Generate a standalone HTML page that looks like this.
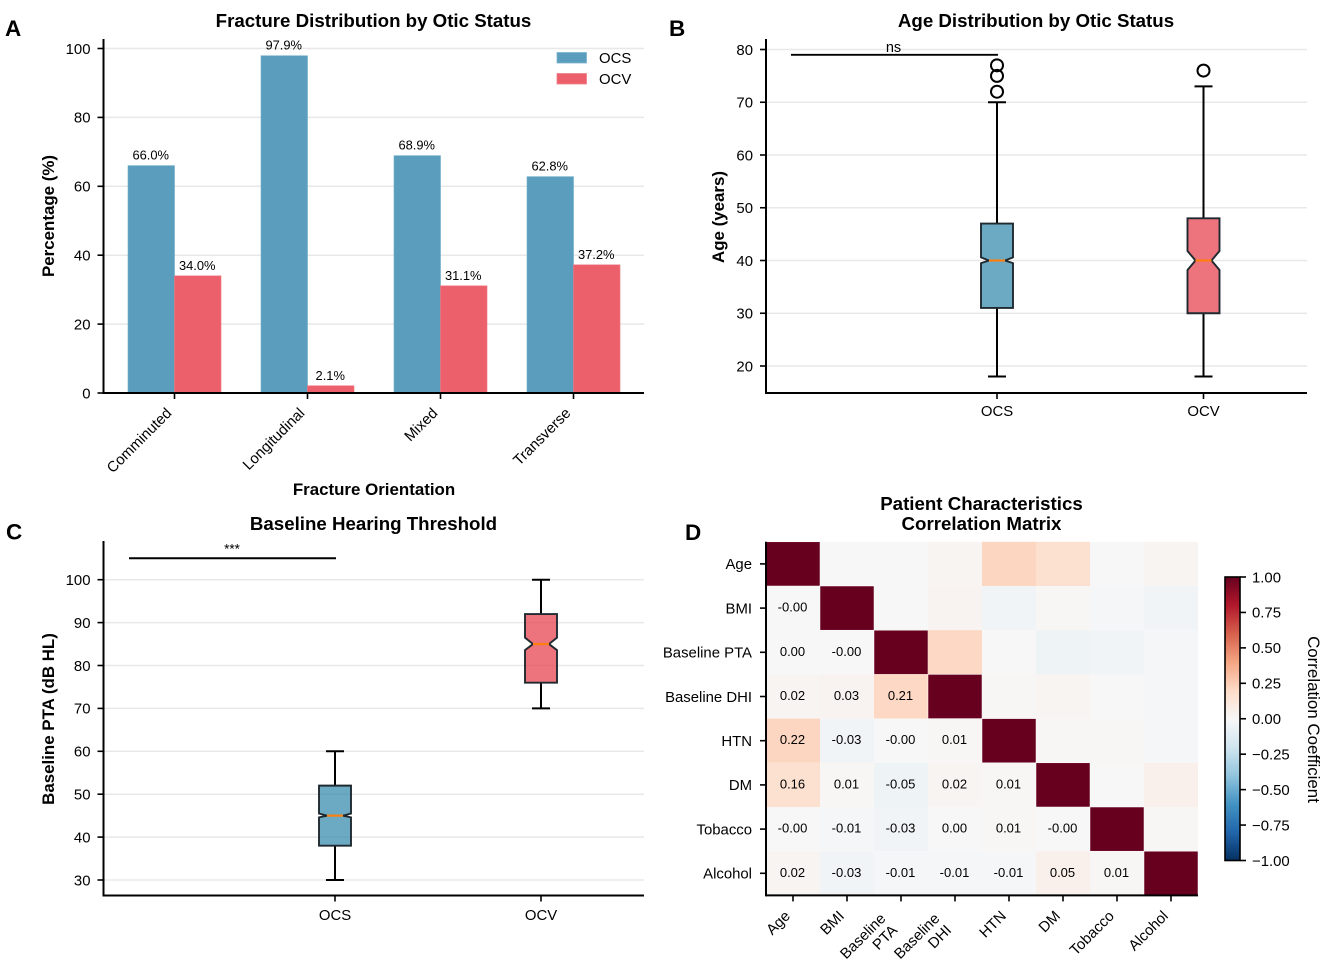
<!DOCTYPE html>
<html>
<head>
<meta charset="utf-8">
<title>Otic Status Figure</title>
<style>
html,body{margin:0;padding:0;background:#fff;}
svg{display:block;}
text{font-family:"Liberation Sans",sans-serif;fill:#000;}
.title{font-size:18.7px;font-weight:bold;text-anchor:middle;}
.axlabel{font-size:16.9px;font-weight:bold;text-anchor:middle;}
.tick{font-size:14.9px;}
.panel{font-size:22.5px;font-weight:bold;}
.val{font-size:12.9px;text-anchor:middle;}
</style>
</head>
<body>
<svg id="fig" xmlns="http://www.w3.org/2000/svg" width="1325" height="962" viewBox="0 0 1325 962">
  <defs>
    <linearGradient id="cbgrad" x1="0" y1="1" x2="0" y2="0">
      <stop offset="0" stop-color="#053061"/><stop offset="0.1" stop-color="#2166ac"/>
      <stop offset="0.2" stop-color="#4393c3"/><stop offset="0.3" stop-color="#92c5de"/>
      <stop offset="0.4" stop-color="#d1e5f0"/><stop offset="0.5" stop-color="#f7f7f7"/>
      <stop offset="0.6" stop-color="#fddbc7"/><stop offset="0.7" stop-color="#f4a582"/>
      <stop offset="0.8" stop-color="#d6604d"/><stop offset="0.9" stop-color="#b2182b"/>
      <stop offset="1" stop-color="#67001f"/>
    </linearGradient>
  </defs>
  <g id="panelA"></g>
  <g id="panelB"></g>
  <g id="panelC"></g>
  <g id="panelD"></g>

  <text class="panel" x="5" y="36">A</text>
  <text class="panel" x="669" y="36">B</text>
  <text class="panel" x="6" y="539.5">C</text>
  <text class="panel" x="685" y="540">D</text>

  <text class="title" x="373.5" y="27">Fracture Distribution by Otic Status</text>
  <text class="title" x="1036" y="27">Age Distribution by Otic Status</text>
  <text class="title" x="373.5" y="530">Baseline Hearing Threshold</text>
  <text class="title" x="981.5" y="510">Patient Characteristics</text>
  <text class="title" x="981.5" y="530">Correlation Matrix</text>

  <text class="axlabel" transform="translate(54,216) rotate(-90)">Percentage (%)</text>
  <text class="axlabel" x="374" y="495">Fracture Orientation</text>
  <text class="axlabel" transform="translate(724,217) rotate(-90)">Age (years)</text>
  <text class="axlabel" transform="translate(54,719) rotate(-90)">Baseline PTA (dB HL)</text>
  <text x="1308" y="719.5" transform="rotate(90 1308 719.5)" text-anchor="middle" font-size="16.9">Correlation Coefficient</text>

  <g id="legendA">
    <rect x="557" y="52.5" width="29.5" height="10.5" fill="#5a9dbd" stroke="#7db5cf" stroke-width="0.8"/>
    <text class="tick" x="599" y="63">OCS</text>
    <rect x="557" y="73.5" width="29.5" height="10.5" fill="#ec606b" stroke="#f08089" stroke-width="0.8"/>
    <text class="tick" x="599" y="84">OCV</text>
  </g>
</svg>

<script>
// ---------- Panel A data ----------
const fractureCategories = ["Comminuted", "Longitudinal", "Mixed", "Transverse"];
const ocsPercent = [66.0, 97.9, 68.9, 62.8];
const ocvPercent = [34.0, 2.1, 31.1, 37.2];
const percentTicks = [0, 20, 40, 60, 80, 100];

// ---------- Panel B data ----------
const boxGroups = ["OCS", "OCV"];
const ageTicks = [20, 30, 40, 50, 60, 70, 80];
const ageWhiskerLow = [18, 18];
const ageQ1 = [31, 30];
const ageNotchLow = [39.5, 38.2];
const ageMedian = [40, 40];
const ageNotchHigh = [40.6, 41.8];
const ageQ3 = [47, 48];
const ageWhiskerHigh = [70, 73];
const ageFliers = [[72, 75, 77], [76]];
const ageBracket = 79;

// ---------- Panel C data ----------
const ptaTicks = [30, 40, 50, 60, 70, 80, 90, 100];
const ptaWhiskerLow = [30, 70];
const ptaQ1 = [38, 76];
const ptaNotchLow = [44.6, 83.6];
const ptaMedian = [45, 85];
const ptaNotchHigh = [45.5, 86.5];
const ptaQ3 = [52, 92];
const ptaWhiskerHigh = [60, 100];
const ptaBracket = 105;

// ---------- Panel D data ----------
const corrLabels = ["Age", "BMI", "Baseline PTA", "Baseline DHI", "HTN", "DM", "Tobacco", "Alcohol"];
const corrRowAge = [1, -0.001, 0.001, 0.02, 0.22, 0.16, -0.001, 0.02];
const corrRowBmi = [-0.001, 1, -0.001, 0.03, -0.03, 0.01, -0.01, -0.03];
const corrRowPta = [0.001, -0.001, 1, 0.21, -0.001, -0.05, -0.03, -0.01];
const corrRowDhi = [0.02, 0.03, 0.21, 1, 0.01, 0.02, 0.001, -0.01];
const corrRowHtn = [0.22, -0.03, -0.001, 0.01, 1, 0.01, 0.01, -0.01];
const corrRowDm = [0.16, 0.01, -0.05, 0.02, 0.01, 1, -0.001, 0.05];
const corrRowTobacco = [-0.001, -0.01, -0.03, 0.001, 0.01, -0.001, 1, 0.01];
const corrRowAlcohol = [0.02, -0.03, -0.01, -0.01, -0.01, 0.05, 0.01, 1];
const colorbarTicks = [1, 0.75, 0.5, 0.25, 0, -0.25, -0.5, -0.75, -1];

const corrMatrix = [corrRowAge, corrRowBmi, corrRowPta, corrRowDhi, corrRowHtn, corrRowDm, corrRowTobacco, corrRowAlcohol];

const NS = "http://www.w3.org/2000/svg";
const svg = document.getElementById("fig");

function mk(parent, tag, attrs, txt) {
  const el = document.createElementNS(NS, tag);
  for (const k in attrs) el.setAttribute(k, attrs[k]);
  if (txt !== undefined) el.textContent = txt;
  parent.appendChild(el);
  return el;
}

// Axis scales
const yA = v => 393 - v * 3.445;
const xA = i => 174.5 + i * 133;
const yB = v => 366 - (v - 20) * 5.275;
const xB = i => 997 + i * 206.5;
const yC = v => 880 - (v - 30) * 4.29;
const xC = i => 335 + i * 206;
const BOX_W = 32;

function axes(g, left, right, top, bottom, yTicks, yScale) {
  yTicks.forEach(t => {
    const y = yScale(t);
    const grid = mk(g, "line", {x1: left, x2: right, y1: y, y2: y, stroke: "#e8e8e8", "stroke-width": 1.5});
    
    
  });
}

function axisLines(g, left, right, top, bottom, yTicks, yScale) {
  const ya = mk(g, "line", {x1: left, x2: left, y1: top, y2: bottom + 1, stroke: "#000", "stroke-width": 2});
  
  
  const xa = mk(g, "line", {x1: left, x2: right, y1: bottom, y2: bottom, stroke: "#000", "stroke-width": 2});
  
  
  yTicks.forEach(t => {
    const y = yScale(t);
    const tk = mk(g, "line", {x1: left - 6, x2: left, y1: y, y2: y, stroke: "#000", "stroke-width": 1.6});
    
    
    const lb = mk(g, "text", {class: "tick", x: left - 13, y: y + 5.3, "text-anchor": "end"}, String(t));
    
    
  });
}

// ---------- Panel A ----------
(function () {
  const g = document.getElementById("panelA");
  axes(g, 103.5, 644, 39, 393, percentTicks, yA);
  const barW = 46.5;
  fractureCategories.forEach((c, i) => {
    const a = mk(g, "rect", {x: xA(i) - barW, y: yA(ocsPercent[i]), width: barW, height: yA(0) - yA(ocsPercent[i]), fill: "#5a9dbd", stroke: "#6fadc9", "stroke-width": 0.6});
    
    
    const b = mk(g, "rect", {x: xA(i), y: yA(ocvPercent[i]), width: barW, height: yA(0) - yA(ocvPercent[i]), fill: "#ec606b", stroke: "#f0737d", "stroke-width": 0.6});
    
    
    const la = mk(g, "text", {class: "val", x: xA(i) - barW / 2 - 0.5, y: yA(ocsPercent[i]) - 6}, ocsPercent[i].toFixed(1) + "%");
    
    
    const lb = mk(g, "text", {class: "val", x: xA(i) + barW / 2 - 0.5, y: yA(ocvPercent[i]) - 6}, ocvPercent[i].toFixed(1) + "%");
    
    
  });
  axisLines(g, 103.5, 644, 39, 393, percentTicks, yA);
  fractureCategories.forEach((c, i) => {
    const tk = mk(g, "line", {x1: xA(i), x2: xA(i), y1: 393, y2: 399, stroke: "#000", "stroke-width": 1.6});
    
    
    const lb = mk(g, "text", {class: "tick", "text-anchor": "end", transform: "translate(" + (xA(i) - 2) + ",414) rotate(-45)"}, c);
    
    
  });
})();

// ---------- Box plots ----------
function drawBox(g, x, y, d, fill) {
  const w = BOX_W / 2, n = w / 2;
  const wl = mk(g, "line", {x1: x, x2: x, y1: y(d.low), y2: y(d.q1), stroke: "#000", "stroke-width": 2});
  
  
  const wh = mk(g, "line", {x1: x, x2: x, y1: y(d.q3), y2: y(d.high), stroke: "#000", "stroke-width": 2});
  
  
  [d.low, d.high].forEach(v => {
    const cap = mk(g, "line", {x1: x - 9, x2: x + 9, y1: y(v), y2: y(v), stroke: "#000", "stroke-width": 2});
    
    
  });
  const pts = [[x - w, y(d.q1)], [x - w, y(d.nl)], [x - n, y(d.med)], [x - w, y(d.nh)], [x - w, y(d.q3)],
               [x + w, y(d.q3)], [x + w, y(d.nh)], [x + n, y(d.med)], [x + w, y(d.nl)], [x + w, y(d.q1)]];
  const box = mk(g, "polygon", {points: pts.map(p => p.join(",")).join(" "), fill: fill, "fill-opacity": 0.7, stroke: "#1f2a30", "stroke-width": 1.9});
  
  
  const med = mk(g, "line", {x1: x - n, x2: x + n, y1: y(d.med), y2: y(d.med), stroke: "#ff7f0e", "stroke-width": 2.2});
  
  
  d.fliers.forEach(v => {
    const c = mk(g, "circle", {cx: x, cy: y(v), r: 6, fill: "none", stroke: "#000", "stroke-width": 2});
    
    
  });
}

function xCats(g, xf, bottom, labelOffset) {
  boxGroups.forEach((c, i) => {
    const tk = mk(g, "line", {x1: xf(i), x2: xf(i), y1: bottom, y2: bottom + 6, stroke: "#000", "stroke-width": 1.6});
    
    
    const lb = mk(g, "text", {class: "tick", x: xf(i), y: bottom + labelOffset, "text-anchor": "middle"}, c);
    
    
  });
}

// Panel B
(function () {
  const g = document.getElementById("panelB");
  axes(g, 766, 1307, 39, 393, ageTicks, yB);
  boxGroups.forEach((c, i) => drawBox(g, xB(i), yB, {
    low: ageWhiskerLow[i], q1: ageQ1[i], nl: ageNotchLow[i], med: ageMedian[i], nh: ageNotchHigh[i],
    q3: ageQ3[i], high: ageWhiskerHigh[i], fliers: ageFliers[i]
  }, i === 0 ? "#2E86AB" : "#E63946"));
  axisLines(g, 766, 1307, 39, 393, ageTicks, yB);
  xCats(g, xB, 393, 23);
  const br = mk(g, "line", {x1: 791, x2: 998, y1: yB(ageBracket), y2: yB(ageBracket), stroke: "#000", "stroke-width": 1.9});
  
  
  const s = mk(g, "text", {x: 893.5, y: yB(ageBracket) - 3, "text-anchor": "middle", "font-size": 14.5}, "ns");
  
  
})();

// Panel C
(function () {
  const g = document.getElementById("panelC");
  axes(g, 103.5, 644, 541, 895.5, ptaTicks, yC);
  boxGroups.forEach((c, i) => drawBox(g, xC(i), yC, {
    low: ptaWhiskerLow[i], q1: ptaQ1[i], nl: ptaNotchLow[i], med: ptaMedian[i], nh: ptaNotchHigh[i],
    q3: ptaQ3[i], high: ptaWhiskerHigh[i], fliers: []
  }, i === 0 ? "#2E86AB" : "#E63946"));
  axisLines(g, 103.5, 644, 541, 895.5, ptaTicks, yC);
  xCats(g, xC, 895.5, 24.5);
  const br = mk(g, "line", {x1: 129, x2: 336, y1: yC(ptaBracket), y2: yC(ptaBracket), stroke: "#000", "stroke-width": 1.9});
  
  
  const s = mk(g, "text", {x: 232, y: yC(ptaBracket) - 5, "text-anchor": "middle", "font-size": 13.5}, "***");
  
  
})();

// ---------- Panel D ----------
const rdbu = ["#053061","#2166ac","#4393c3","#92c5de","#d1e5f0","#f7f7f7","#fddbc7","#f4a582","#d6604d","#b2182b","#67001f"];
function hexToRgb(h) { return [1, 3, 5].map(i => parseInt(h.substr(i, 2), 16)); }
function colorOf(v) {
  const t = Math.max(0, Math.min(1, (v + 1) / 2)) * (rdbu.length - 1);
  const i = Math.min(Math.floor(t), rdbu.length - 2), f = t - i;
  const a = hexToRgb(rdbu[i]), b = hexToRgb(rdbu[i + 1]);
  return "rgb(" + a.map((c, k) => Math.round(c + (b[k] - c) * f)).join(",") + ")";
}
function fmtCorr(v) {
  if (Math.abs(v) < 0.005) return (v < 0 ? "-" : "") + "0.00";
  return v.toFixed(2);
}
(function () {
  const g = document.getElementById("panelD");
  const L = 766, T = 541.8, CW = 54, CH = 44.2;
  const xH = j => L + j * CW;
  const yH = i => T + i * CH;
  corrMatrix.forEach((row, i) => {
    row.forEach((v, j) => {
      const r = mk(g, "rect", {x: xH(j), y: yH(i), width: CW, height: CH, fill: colorOf(v), stroke: v === 1 ? "#fff" : "none", "stroke-width": 0.5});
      
      
    });
  });
  corrMatrix.forEach((row, i) => {
    row.forEach((v, j) => {
      if (j < i) {
        const t = mk(g, "text", {x: xH(j) + CW / 2 - 0.5, y: yH(i) + CH / 2 + 3.5, "text-anchor": "middle", "font-size": 13}, fmtCorr(v));
        
        
      }
    });
  });
  const B = T + 8 * CH;
  const ya = mk(g, "line", {x1: L, x2: L, y1: T, y2: B + 1, stroke: "#000", "stroke-width": 2});
  
  
  const xa = mk(g, "line", {x1: L, x2: L + 8 * CW, y1: B, y2: B, stroke: "#000", "stroke-width": 2});
  
  
  corrLabels.forEach((name, i) => {
    const y = yH(i) + CH / 2;
    const tk = mk(g, "line", {x1: L - 6, x2: L, y1: y, y2: y, stroke: "#000", "stroke-width": 1.6});
    
    
    const lb = mk(g, "text", {class: "tick", x: L - 14, y: y + 5.3, "text-anchor": "end"}, name);
    
    

    const x = xH(i) + CW / 2;
    const tx = mk(g, "line", {x1: x, x2: x, y1: B, y2: B + 6, stroke: "#000", "stroke-width": 1.6});
    
    
    const parts = name.split(" ");
    const multi = parts.length > 1;
    const lab = mk(g, "text", {class: "tick", "text-anchor": "end", transform: "translate(" + (multi ? x - 14.5 : x - 2) + "," + (multi ? B + 24 : B + 21.5) + ") rotate(-45)"});
    
    
    parts.forEach((p, k) => {
      mk(lab, "tspan", {x: 0, y: k * 16.5}, p);
    });
  });

  // Colorbar
  const cbL = 1225, cbW = 15, cbT = 577, cbB = 860.5;
  const yCb = v => cbB - (v + 1) / 2 * (cbB - cbT);
  const bar = mk(g, "rect", {x: cbL, y: cbT, width: cbW, height: cbB - cbT, fill: "url(#cbgrad)", stroke: "#000", "stroke-width": 1.6});
  
  
  colorbarTicks.forEach(v => {
    const y = yCb(v);
    const tk = mk(g, "line", {x1: cbL + cbW, x2: cbL + cbW + 6, y1: y, y2: y, stroke: "#000", "stroke-width": 1.6});
    
    
    const s = (v < 0 ? "\u2212" : "") + Math.abs(v).toFixed(2);
    const lb = mk(g, "text", {class: "tick", x: cbL + cbW + 12, y: y + 5.3}, s);
    
    
  });
})();
</script>
</body>
</html>
